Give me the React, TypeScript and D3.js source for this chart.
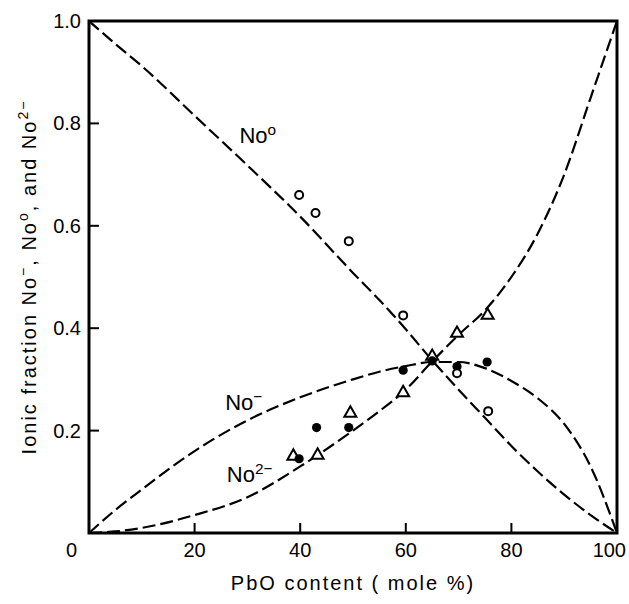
import * as d3 from 'd3';
import React from 'react';

// PbO content (mole %) grid used to trace the three model curves
const curveX = [0, 5, 10, 20, 30, 40, 50, 55, 60, 65, 70, 75, 80, 85, 90, 95, 100];
const curveO0 = [1.0, 0.955, 0.912, 0.815, 0.718, 0.618, 0.508, 0.455, 0.398, 0.337, 0.28, 0.225, 0.17, 0.12, 0.075, 0.035, 0];
const curveOm = [0, 0.045, 0.085, 0.16, 0.22, 0.265, 0.3, 0.315, 0.326, 0.334, 0.334, 0.322, 0.297, 0.263, 0.213, 0.13, 0];
const curveO2m = [0, 0.003, 0.01, 0.035, 0.07, 0.13, 0.2, 0.238, 0.28, 0.335, 0.387, 0.435, 0.5, 0.585, 0.7, 0.85, 1.0];

// measured points
const openX = [39.8, 42.9, 49.2, 59.5, 69.7, 75.6];
const openY = [0.66, 0.625, 0.57, 0.425, 0.312, 0.238];
const filledX = [39.8, 43.1, 49.2, 59.5, 65, 69.7, 75.4];
const filledY = [0.145, 0.206, 0.206, 0.318, 0.336, 0.325, 0.334];
const triX = [38.7, 43.3, 49.5, 59.5, 65, 69.7, 75.5];
const triY = [0.15, 0.152, 0.234, 0.274, 0.345, 0.39, 0.425];

const xTicks = [20, 40, 60, 80, 100];
const yTicks = [0.2, 0.4, 0.6, 0.8, 1.0];

const W = 629;
const H = 604;
const m = { left: 89, right: 12, top: 21, bottom: 71 };
const font = "'Liberation Sans', Arial, sans-serif";

const Sup = ({ t }: { t: string }) => (
  <tspan baselineShift="super" fontSize="70%">{t}</tspan>
);

export default function App() {
  const x = d3.scaleLinear().domain([0, 100]).range([m.left, W - m.right]);
  const y = d3.scaleLinear().domain([0, 1]).range([H - m.bottom, m.top]);

  const line = (ys: number[]) =>
    d3
      .line<number>()
      .x((_, i) => x(curveX[i]))
      .y((d) => y(d))
      .curve(d3.curveMonotoneX)(ys) || '';

  const tri = d3.symbol(d3.symbolTriangle, 62)() || '';

  return (
    <svg
      width={W}
      height={H}
      style={{ position: 'absolute', left: 0, top: 0, background: '#fff' }}
      fontFamily={font}
    >
      {/* curves */}
      {[curveO0, curveOm, curveO2m].map((c, i) => (
        <path
          key={i}
          d={line(c)}
          fill="none"
          stroke="#000"
          strokeWidth={2.2}
          strokeDasharray="13 5"
        />
      ))}

      {/* frame */}
      <rect
        x={x(0)}
        y={y(1)}
        width={x(100) - x(0)}
        height={y(0) - y(1)}
        fill="none"
        stroke="#000"
        strokeWidth={3}
      />

      {/* ticks */}
      {xTicks.slice(0, -1).map((t) => (
        <line key={t} x1={x(t)} x2={x(t)} y1={y(0)} y2={y(0) - 10} stroke="#000" strokeWidth={2} />
      ))}
      {yTicks.slice(0, -1).map((t) => (
        <line key={t} x1={x(0)} x2={x(0) + 10} y1={y(t)} y2={y(t)} stroke="#000" strokeWidth={2} />
      ))}

      {/* tick labels */}
      {xTicks.map((t) => (
        <text
          key={t}
          x={t === 100 ? W - 3 : x(t)}
          y={y(0) + 24}
          textAnchor={t === 100 ? 'end' : 'middle'}
          fontSize={20}
        >
          {t}
        </text>
      ))}
      {yTicks.map((t) => (
        <text key={t} x={x(0) - 8} y={y(t) + 7} textAnchor="end" fontSize={20}>
          {t.toFixed(1)}
        </text>
      ))}
      <text x={x(0) - 12} y={y(0) + 24} textAnchor="end" fontSize={20}>0</text>

      {/* points */}
      {triX.map((d, i) => (
        <path
          key={'t' + i}
          d={tri}
          transform={`translate(${x(d)},${y(triY[i])})`}
          fill="#fff"
          stroke="#000"
          strokeWidth={2}
        />
      ))}
      {filledX.map((d, i) => (
        <circle key={'f' + i} cx={x(d)} cy={y(filledY[i])} r={4.6} fill="#000" />
      ))}
      {openX.map((d, i) => (
        <circle key={'o' + i} cx={x(d)} cy={y(openY[i])} r={4} fill="#fff" stroke="#000" strokeWidth={2} />
      ))}

      {/* curve labels */}
      <text x={x(28.5)} y={y(0.762)} fontSize={22}>
        No<Sup t="o" />
      </text>
      <text x={x(25.8)} y={y(0.24)} fontSize={22}>
        No<Sup t="−" />
      </text>
      <text x={x(26.1)} y={y(0.1)} fontSize={22}>
        No<Sup t="2−" />
      </text>

      {/* axis titles */}
      <text x={(x(0) + x(100)) / 2} y={H - 14} textAnchor="middle" fontSize={20} letterSpacing={2}>
        PbO content ( mole %)
      </text>
      <text
        transform={`translate(36,${(y(0) + y(1)) / 2}) rotate(-90)`}
        textAnchor="middle"
        fontSize={20}
        letterSpacing={2}
      >
        Ionic  fraction  No<Sup t="−" />, No<Sup t="o" />, and No<Sup t="2−" />
      </text>
    </svg>
  );
}
